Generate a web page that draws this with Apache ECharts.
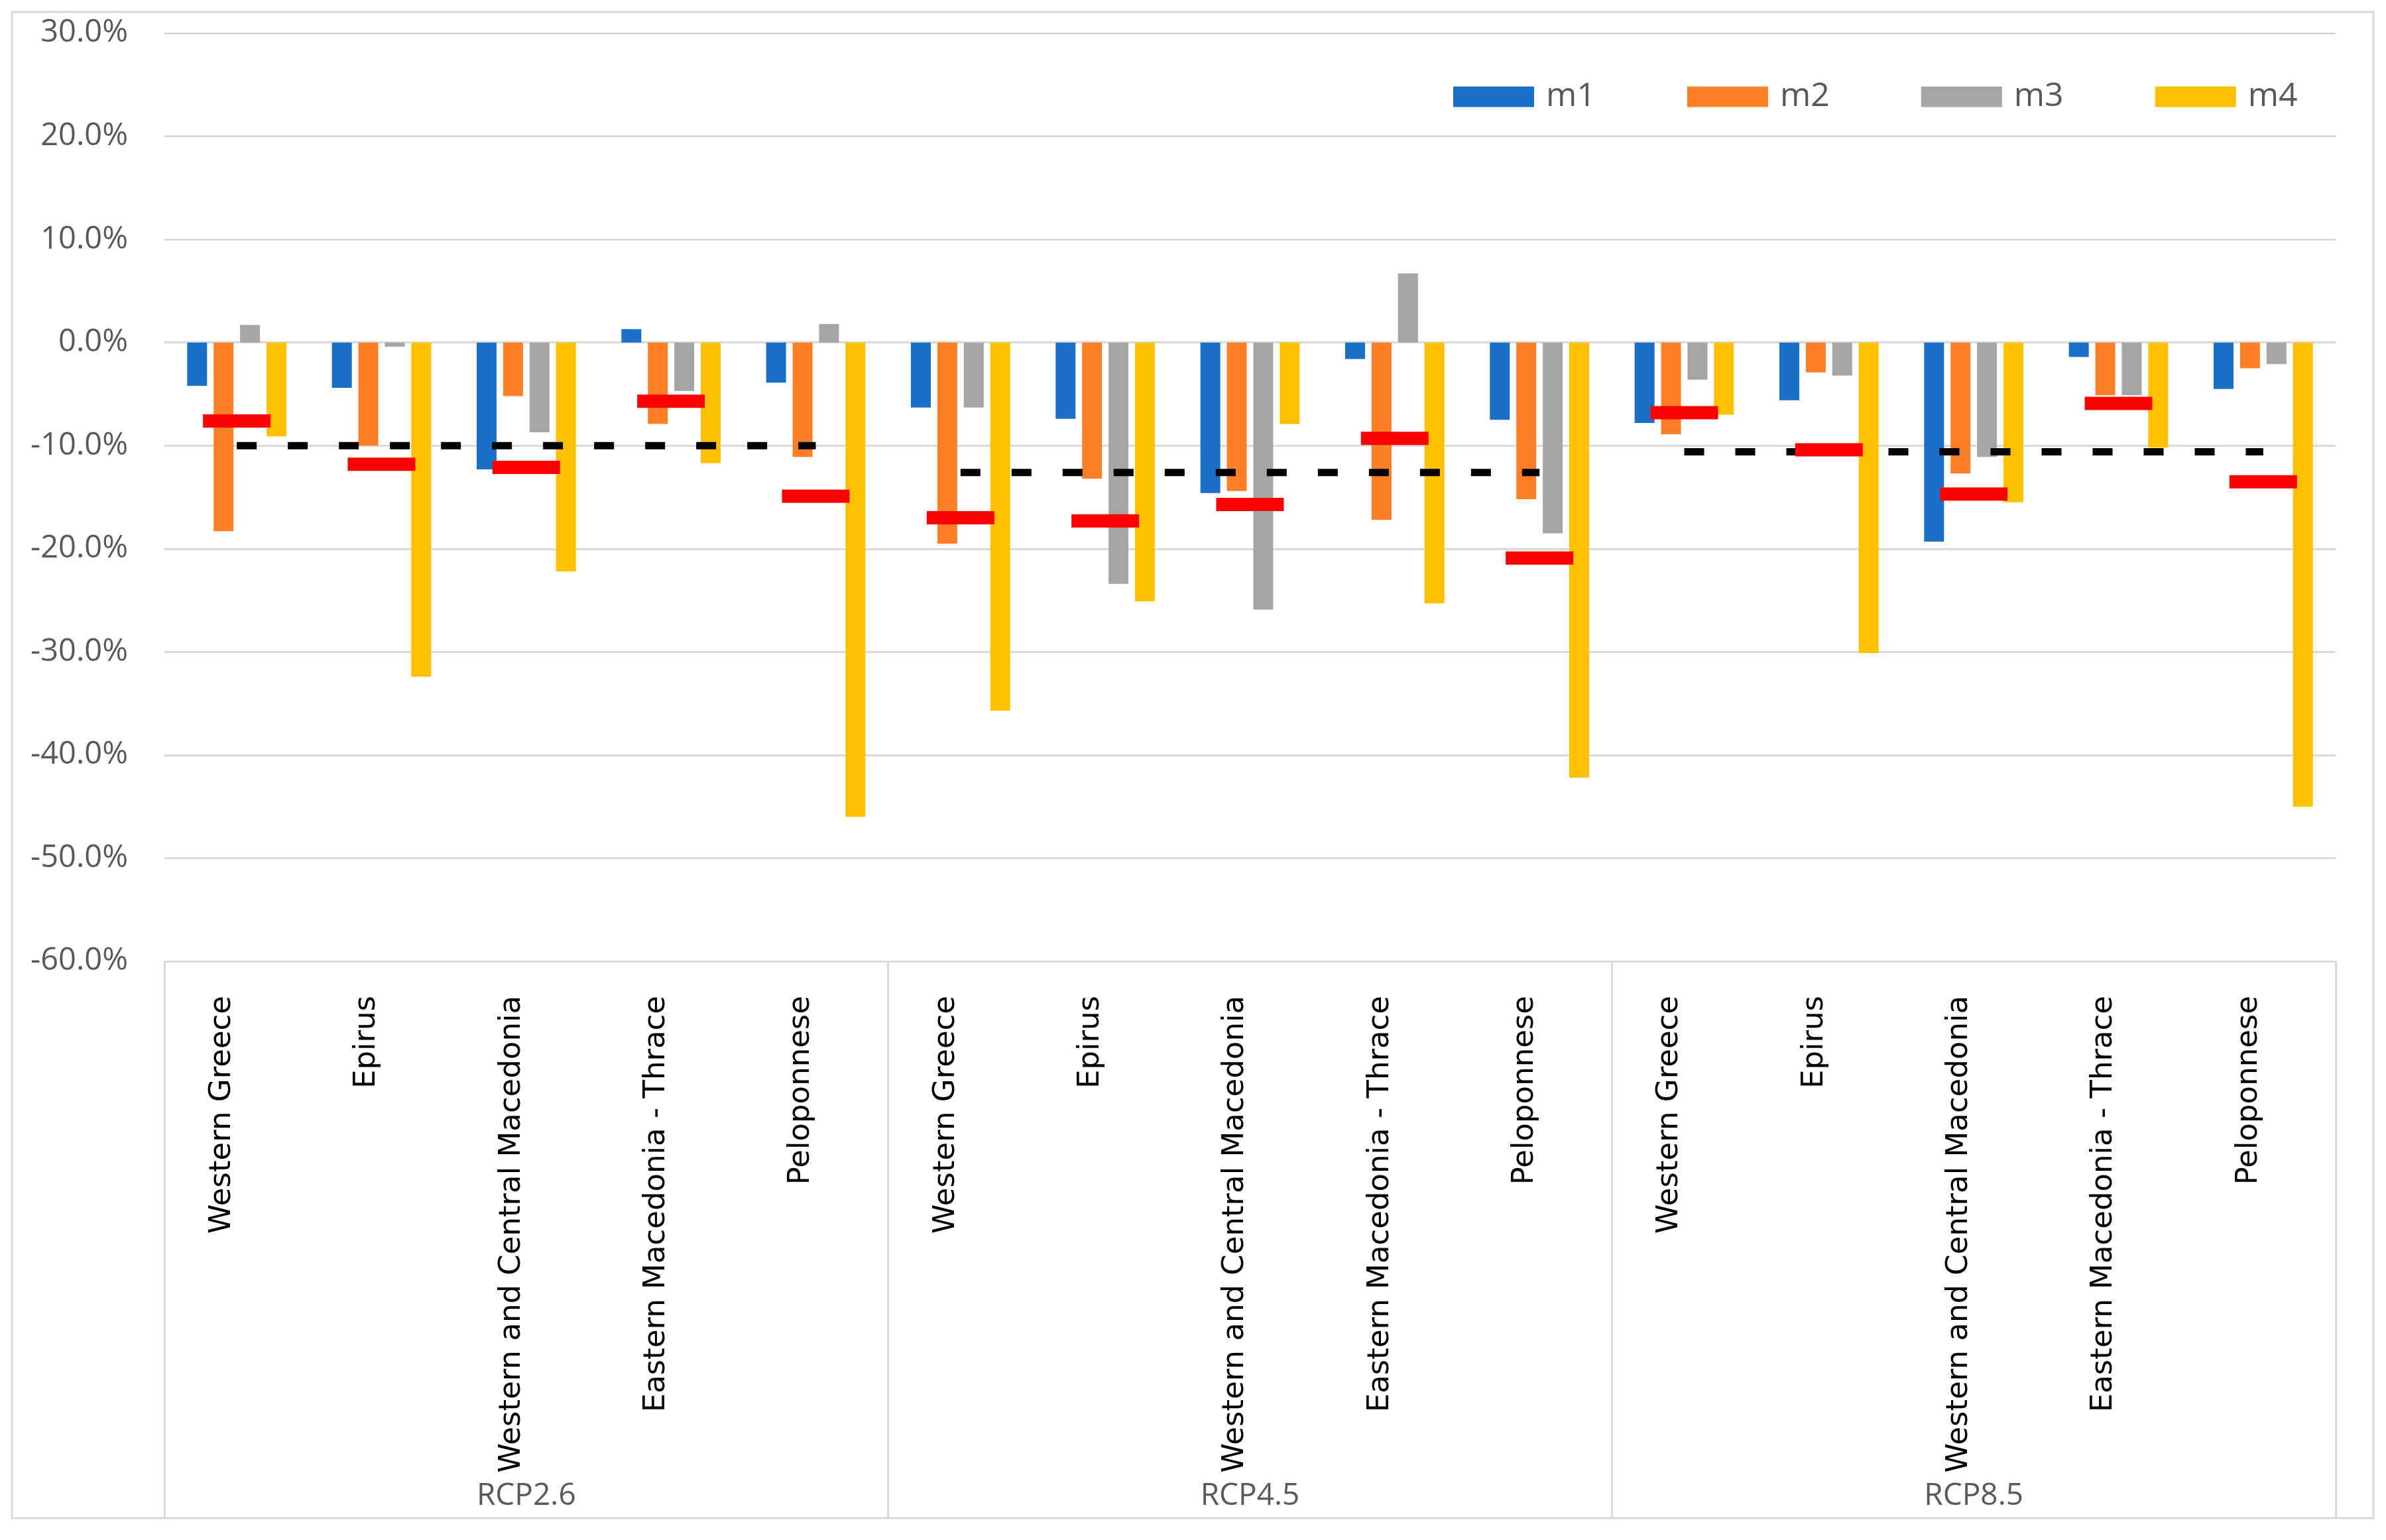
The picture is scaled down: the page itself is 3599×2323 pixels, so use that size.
<!DOCTYPE html>
<html>
<head>
<meta charset="utf-8">
<script src="https://cdn.jsdelivr.net/npm/echarts@6/dist/echarts.min.js"></script>
<style>
html,body{margin:0;padding:0;background:#fff;}
#c{width:3599px;height:2323px;}
</style>
</head>
<body>
<div id="c"></div>
<script>
var scenarios = ['RCP2.6', 'RCP4.5', 'RCP8.5'];
var regions = ['Western Greece', 'Epirus', 'Western and Central Macedonia', 'Eastern Macedonia - Thrace', 'Peloponnese'];
var seriesNames = ['m1', 'm2', 'm3', 'm4'];

// values in % (order: RCP2.6 regions, RCP4.5 regions, RCP8.5 regions)
var m1 = [-4.2, -4.4, -12.3, 1.3, -3.9,   -6.3, -7.4, -14.6, -1.6, -7.5,   -7.8, -5.6, -19.3, -1.4, -4.5];
var m2 = [-18.3, -10.0, -5.2, -7.9, -11.1, -19.5, -13.2, -14.4, -17.2, -15.2, -8.9, -2.9, -12.7, -5.1, -2.5];
var m3 = [1.7, -0.4, -8.7, -4.7, 1.8,     -6.3, -23.4, -25.9, 6.7, -18.5,   -3.6, -3.2, -11.1, -5.1, -2.1];
var m4 = [-9.1, -32.4, -22.2, -11.7, -46.0, -35.7, -25.1, -7.9, -25.3, -42.2, -7.0, -30.1, -15.5, -10.2, -45.0];
var ensembleMean = [-7.6, -11.8, -12.1, -5.7, -14.9, -17.0, -17.3, -15.7, -9.3, -20.9, -6.8, -10.4, -14.7, -5.9, -13.5];
var scenarioMean = [-10.0, -12.6, -10.6];

var yTicks = {min: -60, max: 30, step: 10};

// build category keys (unique) from scenarios x regions
var cats = [];
scenarios.forEach(function (s) { regions.forEach(function (r) { cats.push(s + '|' + r); }); });

var colors = ['#1a70c8', '#ff7f27', '#a5a5a5', '#ffc000'];
var barData = [m1, m2, m3, m4];

var series = [];
seriesNames.forEach(function (n, i) {
  series.push({
    name: n, type: 'bar', data: barData[i], barWidth: 30, barGap: '33%',
    itemStyle: {color: colors[i]}, z: 2, silent: true
  });
});
scenarios.forEach(function (s, g) {
  var d = cats.map(function (c, k) { return Math.floor(k / regions.length) === g ? scenarioMean[g] : null; });
  series.push({
    name: 'mean ' + s, type: 'line', data: d, symbol: 'none', z: 3, silent: true,
    lineStyle: {color: '#000', width: 11, type: [30, 47], cap: 'butt'}
  });
});
series.push({
  name: 'ensemble', type: 'scatter', data: ensembleMean, symbol: 'rect', symbolSize: [102, 20],
  itemStyle: {color: '#ff0000', opacity: 1}, z: 4, silent: true
});

var chart = echarts.init(document.getElementById('c'));
chart.setOption({
  animation: false,
  backgroundColor: '#fff',
  graphic: [{
    type: 'rect', shape: {x: 18, y: 18, width: 3562, height: 2272},
    style: {fill: null, stroke: '#d9d9d9', lineWidth: 3}, z: -1
  }],
  legend: {
    data: seriesNames, left: 2187, top: 116, icon: 'rect', itemWidth: 122, itemHeight: 31, itemGap: 138,
    textStyle: {fontFamily: 'Open Sans', fontSize: 50, color: '#595959', padding: [0, 0, 0, 13]}
  },
  grid: {left: 248, right: 76, top: 50, bottom: 873, containLabel: false},
  xAxis: [{
    type: 'category', data: cats, position: 'bottom',
    axisLine: {show: false}, axisTick: {show: false},
    axisLabel: {
      rotate: 90, interval: 0, margin: 52, fontFamily: 'DejaVu Sans', fontSize: 45, color: '#000',
      verticalAlign: 'bottom', lineHeight: 44,
      formatter: function (v) { return v.split('|')[1]; }
    }
  }, {
    type: 'category', data: scenarios, position: 'bottom', offset: 840,
    axisLine: {show: false},
    axisTick: {show: true, inside: true, length: 840, lineStyle: {color: '#d9d9d9', width: 3}},
    axisLabel: {inside: true, margin: 10, fontFamily: 'Open Sans', fontSize: 46, color: '#595959'}
  }],
  yAxis: {
    type: 'value', min: yTicks.min, max: yTicks.max, interval: yTicks.step,
    axisLine: {show: false}, axisTick: {show: false},
    splitLine: {lineStyle: {color: '#d9d9d9', width: 3}},
    axisLabel: {
      margin: 55, fontFamily: 'Open Sans', fontSize: 47, color: '#595959',
      formatter: function (v) { return v.toFixed(1) + '%'; }
    }
  },
  series: series
});
</script>
</body>
</html>
